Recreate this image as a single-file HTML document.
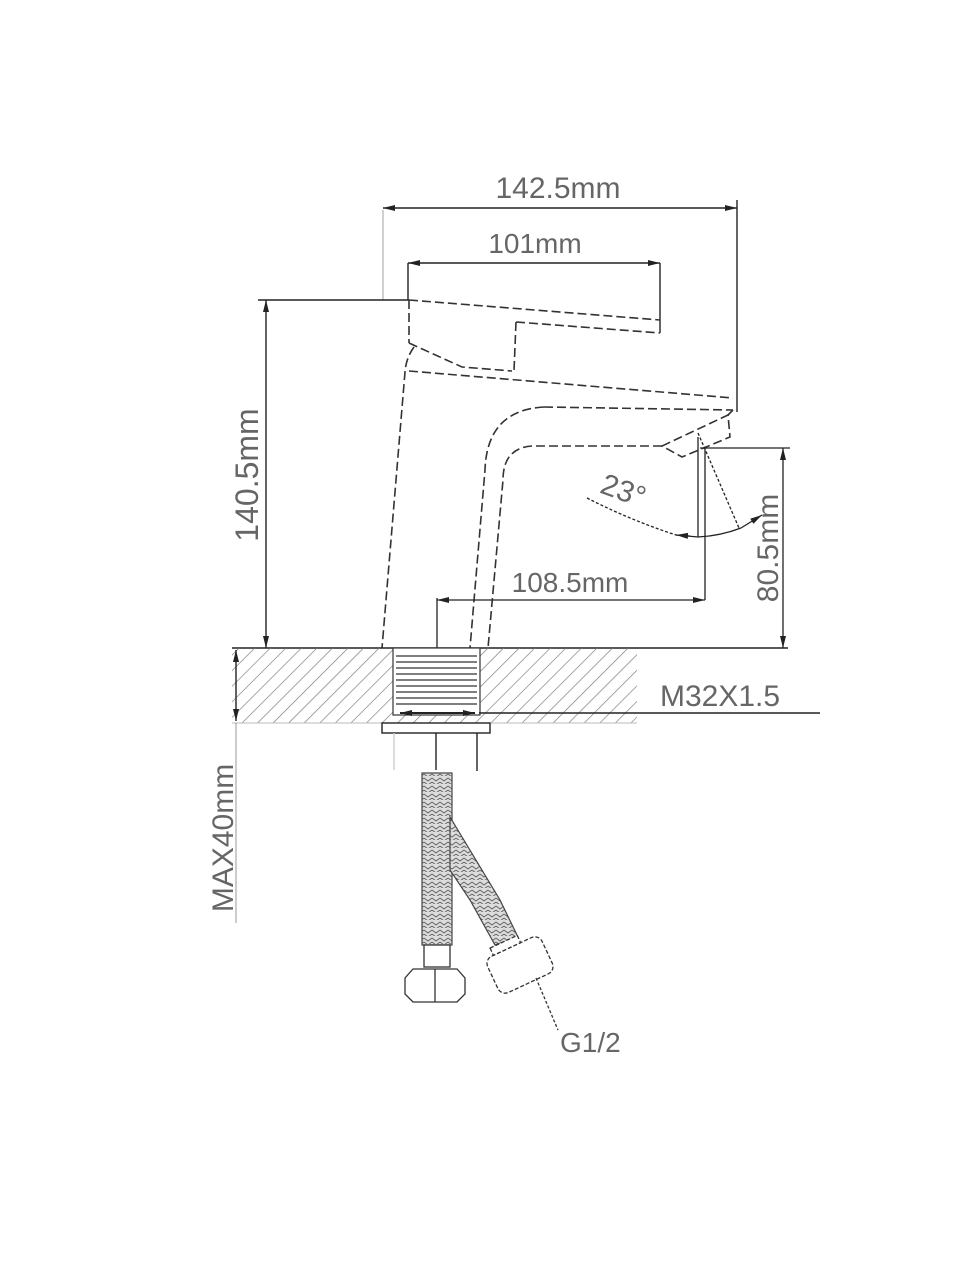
<!DOCTYPE html>
<html><head><meta charset="utf-8"><style>
html,body{margin:0;padding:0;background:#fff}
svg{display:block}
text{font-family:"Liberation Sans",sans-serif;fill:#666}
</style></head><body>
<svg width="960" height="1280" viewBox="0 0 960 1280" xmlns="http://www.w3.org/2000/svg">
<defs>
<pattern id="hatch" width="11" height="11" patternUnits="userSpaceOnUse" patternTransform="rotate(45)">
<line x1="0" y1="0" x2="0" y2="11" stroke="#777" stroke-width="1.3"/>
</pattern>
<pattern id="braid" width="8" height="8" patternUnits="userSpaceOnUse">
<rect width="8" height="8" fill="#ddd"/>
<path d="M0 2 L4 5 L8 2 M0 6 L4 9 L8 6" stroke="#666" stroke-width="1" fill="none"/>
</pattern>
<marker id="ar" viewBox="0 0 12 6" refX="12" refY="3" markerWidth="12" markerHeight="6" orient="auto-start-reverse" markerUnits="userSpaceOnUse">
<path d="M0 0 L12 3 L0 6 z" fill="#222"/>
</marker>
</defs>
<g stroke="#222" stroke-width="1.4" fill="none">
<line x1="383" y1="208" x2="737" y2="208" marker-start="url(#ar)" marker-end="url(#ar)"/>
<line x1="737" y1="200" x2="737" y2="412"/>
<line x1="383" y1="210" x2="383" y2="300" stroke="#bbb"/>
<line x1="408" y1="263" x2="660" y2="263" marker-start="url(#ar)" marker-end="url(#ar)"/>
<line x1="408" y1="263" x2="408" y2="300"/>
<line x1="660" y1="263" x2="660" y2="333"/>
<line x1="258" y1="300" x2="409" y2="300"/>
<line x1="266" y1="300" x2="266" y2="648" marker-start="url(#ar)" marker-end="url(#ar)"/>
</g>
<g stroke="#333" stroke-width="1.6" fill="none" stroke-dasharray="9 4">
<path d="M409 300 L660 320"/>
<path d="M516 322 L660 333"/>
<path d="M516 322 L514 371"/>
<path d="M409 300 L409 343"/>
<path d="M409 343 L462 367 L512 371"/>
<path d="M409 371 L733 398"/>
<path d="M414 347 Q406 358 405 372 L382 648"/>
<path d="M544 407 L733 410"/>
<path d="M544 407 Q487 410 485 470 L470 648"/>
<path d="M662 446 L532 446 Q503 448 503 480 L488 648"/>
<path d="M733 410 L728 415"/>
<path d="M662 446 L728 415 L730 437 L682 457 Z"/>
</g>
<g stroke="#222" stroke-width="1.3" fill="none">
<line x1="698" y1="437" x2="698" y2="537"/>
<line x1="705" y1="448" x2="705" y2="600"/>
<line x1="698" y1="433" x2="739" y2="528" stroke-dasharray="3 2"/>
<path d="M587 498 Q630 520 676 535" stroke-dasharray="3 2"/>
<path d="M676 535 L698 537 Q720 536 741 528" />
<path d="M741 528 L762 515" marker-end="url(#ar)"/>
<path d="M690 536 L676 535" marker-end="url(#ar)"/>
<line x1="700" y1="448" x2="790" y2="448"/>
<line x1="783" y1="448" x2="783" y2="648" marker-start="url(#ar)" marker-end="url(#ar)"/>
<line x1="437" y1="600" x2="705" y2="600" marker-start="url(#ar)" marker-end="url(#ar)"/>
<line x1="437" y1="598" x2="437" y2="648"/>
<line x1="232" y1="648" x2="788" y2="648" stroke-width="1.6"/>
</g>
<rect x="232" y="648" width="405" height="75" fill="url(#hatch)"/>
<line x1="232" y1="723" x2="637" y2="723" stroke="#bbb" stroke-width="1"/>
<rect x="393" y="648" width="87" height="67" fill="#fff" stroke="#333" stroke-width="1.2"/>
<g stroke="#333" stroke-width="1.2">
<line x1="396" y1="656" x2="477" y2="656"/><line x1="396" y1="662" x2="477" y2="662"/>
<line x1="396" y1="668" x2="477" y2="668"/><line x1="396" y1="674" x2="477" y2="674"/>
<line x1="396" y1="680" x2="477" y2="680"/><line x1="396" y1="686" x2="477" y2="686"/>
<line x1="396" y1="692" x2="477" y2="692"/><line x1="396" y1="698" x2="477" y2="698"/>
<line x1="396" y1="704" x2="477" y2="704"/>
</g>
<g stroke="#222" stroke-width="1.4" fill="none">
<line x1="400" y1="713" x2="475" y2="713" marker-start="url(#ar)" marker-end="url(#ar)" stroke-width="2"/>
<line x1="479" y1="713" x2="820" y2="713"/>
<rect x="382" y="723" width="108" height="10" fill="#fff"/>
<line x1="436" y1="733" x2="436" y2="770"/>
<line x1="477" y1="733" x2="477" y2="771"/>
<line x1="394" y1="733" x2="394" y2="770" stroke="#ccc"/>
<line x1="236" y1="650" x2="236" y2="721" marker-start="url(#ar)" marker-end="url(#ar)"/>
<line x1="236" y1="723" x2="236" y2="923" stroke="#999" stroke-width="1"/>
</g>
<rect x="422" y="773" width="30" height="172" fill="url(#braid)" stroke="#444" stroke-width="1.2"/>
<path d="M450 817 L500 900 L518 937 L495 945 L470 900 L450 870 Z" fill="url(#braid)" stroke="#444" stroke-width="1.2"/>
<g stroke="#333" stroke-width="1.3" fill="#fff">
<rect x="424" y="945" width="26" height="22"/>
<path d="M413 969 L457 969 L465 978 L465 994 L457 1002 L413 1002 L405 994 L405 978 Z"/>
<line x1="435" y1="969" x2="435" y2="1002"/>
<g transform="rotate(-25 520 965)" stroke-dasharray="4 2">
<rect x="490" y="945" width="60" height="40" rx="8"/>
<rect x="500" y="937" width="30" height="8"/>
</g>
<line x1="536" y1="978" x2="558" y2="1030" stroke-dasharray="3 2" fill="none"/>
</g>
<text x="558" y="198" font-size="30" text-anchor="middle">142.5mm</text>
<text x="535" y="253" font-size="28" text-anchor="middle">101mm</text>
<text x="570" y="592" font-size="28" text-anchor="middle">108.5mm</text>
<text transform="translate(258 475) rotate(-90)" font-size="32" text-anchor="middle">140.5mm</text>
<text transform="translate(778 548) rotate(-90)" font-size="30" text-anchor="middle">80.5mm</text>
<text transform="translate(620 500) rotate(20)" font-size="30" text-anchor="middle">23°</text>
<text x="660" y="706" font-size="30">M32X1.5</text>
<text transform="translate(233 838) rotate(-90)" font-size="30" text-anchor="middle">MAX40mm</text>
<text x="560" y="1052" font-size="28">G1/2</text>
</svg>
</body></html>
